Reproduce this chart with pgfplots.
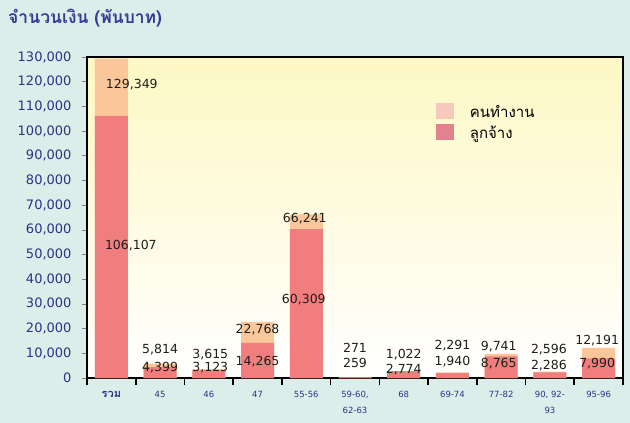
\documentclass[border=0pt]{standalone}
\usepackage{fontspec}
\usepackage{pgfplots}
\pgfplotsset{compat=1.18}
\setmainfont{DejaVu Sans}
\newfontfamily\thaifont[Script=Thai]{Loma}
\definecolor{bgout}{HTML}{DDEEEA}
\definecolor{plottop}{HTML}{FDF8C4}
\definecolor{titleblue}{HTML}{3A3A98}
\definecolor{tickblue}{HTML}{2F3088}
\definecolor{workers}{HTML}{FAC79A}
\definecolor{employees}{HTML}{F07E7E}
\definecolor{legworkers}{HTML}{F7C9BC}
\definecolor{legemployees}{HTML}{E2828F}
\definecolor{labcol}{HTML}{1E1E1E}
\begin{document}
\begin{tikzpicture}
\fill[bgout] (-87bp,-45bp) rectangle (543bp,378bp);
\node[anchor=base west, font=\thaifont\bfseries\fontsize{17.5bp}{20bp}\selectfont, text=titleblue, inner sep=0pt] at (-79bp,354bp) {จำนวนเงิน (พันบาท)};
\begin{axis}[
  at={(0bp,0bp)}, anchor=south west,
  scale only axis, width=536bp, height=321bp,
  xmin=-0.5, xmax=10.5, ymin=0, ymax=130000,
  axis background/.style={top color=plottop, bottom color=white},
  axis line style={black, line width=1.6bp},
  scaled y ticks=false,
  ytick={0,10000,20000,30000,40000,50000,60000,70000,80000,90000,100000,110000,120000,130000},
  yticklabels={0,{10,000},{20,000},{30,000},{40,000},{50,000},{60,000},{70,000},{80,000},{90,000},{100,000},{110,000},{120,000},{130,000}},
  ytick pos=left, xtick pos=bottom,
  tick align=outside,
  y tick style={gray, line width=0.6bp},
  major tick length=5bp,
  yticklabel style={font=\fontsize{13bp}{15bp}\selectfont, text=tickblue, xshift=-7bp},
  xtick={0,...,10},
  xticklabels={{\thaifont\bfseries\fontsize{11bp}{12bp}\selectfont รวม},45,46,47,55-56,{59-60,\\62-63},68,69-74,77-82,{90, 92-\\93},95-96},
  xticklabel style={font=\fontsize{8.5bp}{16bp}\selectfont, text=tickblue, align=center, anchor=north, yshift=-5bp},
  major x tick style={draw=none},
  minor xtick={-0.5,0.5,...,10.5},
  minor x tick style={black, line width=1.6bp},
  minor tick length=7bp,
  legend style={at={(0.645,0.862)}, anchor=north west, draw=none, fill=none,
    font=\thaifont\fontsize{15bp}{17bp}\selectfont, row sep=3bp,
    /tikz/every odd column/.append style={column sep=14bp}},
  legend cell align=left,
  clip=false,
]
\addplot[ybar, bar width=33bp, bar shift=0pt, fill=workers, draw=none,
  legend image code/.code={\fill[legworkers] (0bp,-7bp) rectangle (18bp,9bp);}]
  coordinates {(0,129349) (1,5814) (2,3615) (3,22768) (4,66241) (5,271) (6,1022) (7,2291) (8,9741) (9,2596) (10,12191)};
\addlegendentry{คนทำงาน}
\addplot[ybar, bar width=33bp, bar shift=0pt, fill=employees, draw=none,
  legend image code/.code={\fill[legemployees] (0bp,-7bp) rectangle (18bp,9bp);}]
  coordinates {(0,106107) (1,4399) (2,3123) (3,14265) (4,60309) (5,259) (6,2774) (7,1940) (8,8765) (9,2286) (10,7990)};
\addlegendentry{ลูกจ้าง}
\addplot[forget plot, only marks, mark=*, mark size=0pt,
  mark options={draw opacity=0, fill opacity=0, text opacity=1},
  nodes near coords={\pgfplotspointmeta}, point meta=explicit symbolic,
  nodes near coords style={anchor=center, inner sep=0pt, font=\fontsize{12.5bp}{14bp}\selectfont, text=labcol, opacity=1, text opacity=1}]
  table[meta=lab, header=true] {
x y lab
0.42 118660 129,349
0.40 53500 106,107
1 11340 5,814
1 4050 4,399
2.03 9315 3,615
2.03 4050 3,123
3 19440 22,768
3 6480 14,265
3.97 64395 66,241
3.95 31590 60,309
5 12150 271
5 6075 259
6 9315 1,022
6 3240 2,774
7 12960 2,291
7 6480 1,940
7.95 12555 9,741
7.95 5670 8,765
8.98 11340 2,596
8.98 4860 2,286
9.97 14985 12,191
9.97 5670 7,990
};
\end{axis}
\end{tikzpicture}
\end{document}
